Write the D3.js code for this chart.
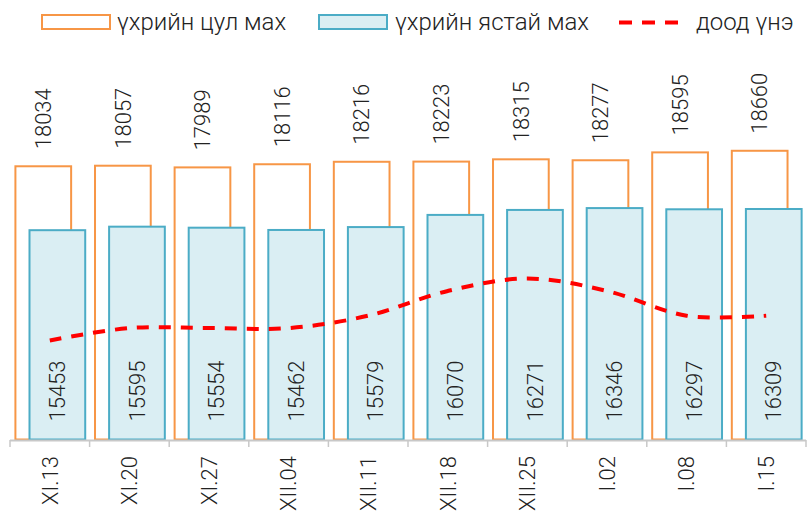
<!DOCTYPE html>
<html lang="mn">
<head>
    <meta charset="UTF-8">
    <script src="https://d3js.org/d3.v7.min.js"></script>
    <title>Үхрийн махны үнэ</title>
    <style>
        body { margin: 0; background: #fff; }
        text { font-family: Roboto, "Noto Sans", sans-serif; font-weight: 300; fill: #222; }
    </style>
</head>
<body>
    <div id="chart"></div>
    <script>
        // data
        var dates = ["XI.13", "XI.20", "XI.27", "XII.04", "XII.11", "XII.18", "XII.25", "I.02", "I.08", "I.15"];
        var tsulMakh = [18034, 18057, 17989, 18116, 18216, 18223, 18315, 18277, 18595, 18660];
        var yastaiMakh = [15453, 15595, 15554, 15462, 15579, 16070, 16271, 16346, 16297, 16309];
        var doodUne = [11000, 11500, 11500, 11500, 12000, 13000, 13500, 13000, 12000, 12000];

        var width = 807;
        var height = 515;
        var orange = "#f79646";
        var blueFill = "#daeef3";
        var blueLine = "#4bacc6";

        var svg = d3.select("#chart")
                    .append("svg")
                    .attr("width", width)
                    .attr("height", height);

        var x = d3.scaleBand()
                  .domain(dates)
                  .range([10, 806]);
        var bw = x.bandwidth();

        var y = d3.scaleLinear()
                  .domain([7000, 20000])
                  .range([439.5, 117.6]);

        // orange bars (white fill)
        svg.selectAll(".tsul")
           .data(dates)
           .enter()
           .append("rect")
           .attr("class", "tsul")
           .attr("x", d => x(d) + bw * 0.068)
           .attr("width", bw * 0.70)
           .attr("y", (d, i) => y(tsulMakh[i]))
           .attr("height", (d, i) => y(7000) - y(tsulMakh[i]))
           .attr("fill", "#fff")
           .attr("stroke", orange)
           .attr("stroke-width", 2);

        // light blue bars
        svg.selectAll(".yastai")
           .data(dates)
           .enter()
           .append("rect")
           .attr("class", "yastai")
           .attr("x", d => x(d) + bw * 0.245)
           .attr("width", bw * 0.70)
           .attr("y", (d, i) => y(yastaiMakh[i]))
           .attr("height", (d, i) => y(7000) - y(yastaiMakh[i]))
           .attr("fill", blueFill)
           .attr("stroke", blueLine)
           .attr("stroke-width", 2);

        // x axis line and boundary ticks
        svg.append("line")
           .attr("x1", x.range()[0]).attr("x2", x.range()[1])
           .attr("y1", 440.5).attr("y2", 440.5)
           .attr("stroke", "#c8c8c8")
           .attr("stroke-width", 2);

        var bounds = dates.map(d => x(d)).concat([x.range()[1]]);
        svg.selectAll(".tick-mark")
           .data(bounds)
           .enter()
           .append("line")
           .attr("class", "tick-mark")
           .attr("x1", d => d).attr("x2", d => d)
           .attr("y1", 440).attr("y2", 447)
           .attr("stroke", "#c8c8c8")
           .attr("stroke-width", 1.5);

        svg.selectAll(".xlabel")
           .data(dates)
           .enter()
           .append("text")
           .attr("class", "xlabel")
           .attr("transform", d => `translate(${x(d) + bw / 2}, 456) rotate(-90)`)
           .attr("dy", "0.35em")
           .attr("text-anchor", "end")
           .attr("font-size", 22)
           .text(d => d);

        // red dashed smooth line
        var line = d3.line()
                     .x((d, i) => x(dates[i]) + bw / 2)
                     .y(d => y(d))
                     .curve(d3.curveCardinal.tension(0));

        svg.append("path")
           .datum(doodUne)
           .attr("d", line)
           .attr("fill", "none")
           .attr("stroke", "#ff0000")
           .attr("stroke-width", 4)
           .attr("stroke-dasharray", "12,10");

        // value labels
        svg.selectAll(".tsul-label")
           .data(dates)
           .enter()
           .append("text")
           .attr("class", "tsul-label")
           .attr("transform", (d, i) => `translate(${x(d) + bw * 0.068 + bw * 0.35}, ${y(tsulMakh[i]) - 17}) rotate(-90)`)
           .attr("dy", "0.35em")
           .attr("font-size", 22)
           .text((d, i) => tsulMakh[i]);

        svg.selectAll(".yastai-label")
           .data(dates)
           .enter()
           .append("text")
           .attr("class", "yastai-label")
           .attr("transform", d => `translate(${x(d) + bw * 0.245 + bw * 0.35}, ${y(7000) - 18}) rotate(-90)`)
           .attr("dy", "0.35em")
           .attr("font-size", 22)
           .text((d, i) => yastaiMakh[i]);

        // legend
        var legend = svg.append("g").attr("id", "legend");

        legend.append("rect")
              .attr("x", 42).attr("y", 15)
              .attr("width", 68).attr("height", 14)
              .attr("fill", "#fff")
              .attr("stroke", orange)
              .attr("stroke-width", 2);
        legend.append("text")
              .attr("x", 117).attr("y", 30)
              .attr("font-size", 24)
              .text("үхрийн цул мах");

        legend.append("rect")
              .attr("x", 319).attr("y", 15)
              .attr("width", 68).attr("height", 14)
              .attr("fill", blueFill)
              .attr("stroke", blueLine)
              .attr("stroke-width", 2);
        legend.append("text")
              .attr("x", 395).attr("y", 30)
              .attr("font-size", 24)
              .text("үхрийн ястай мах");

        legend.append("line")
              .attr("x1", 619).attr("x2", 679)
              .attr("y1", 22.5).attr("y2", 22.5)
              .attr("stroke", "#ff0000")
              .attr("stroke-width", 4)
              .attr("stroke-dasharray", "13,10");
        legend.append("text")
              .attr("x", 696).attr("y", 30)
              .attr("font-size", 24)
              .text("доод үнэ");
    </script>
</body>
</html>
